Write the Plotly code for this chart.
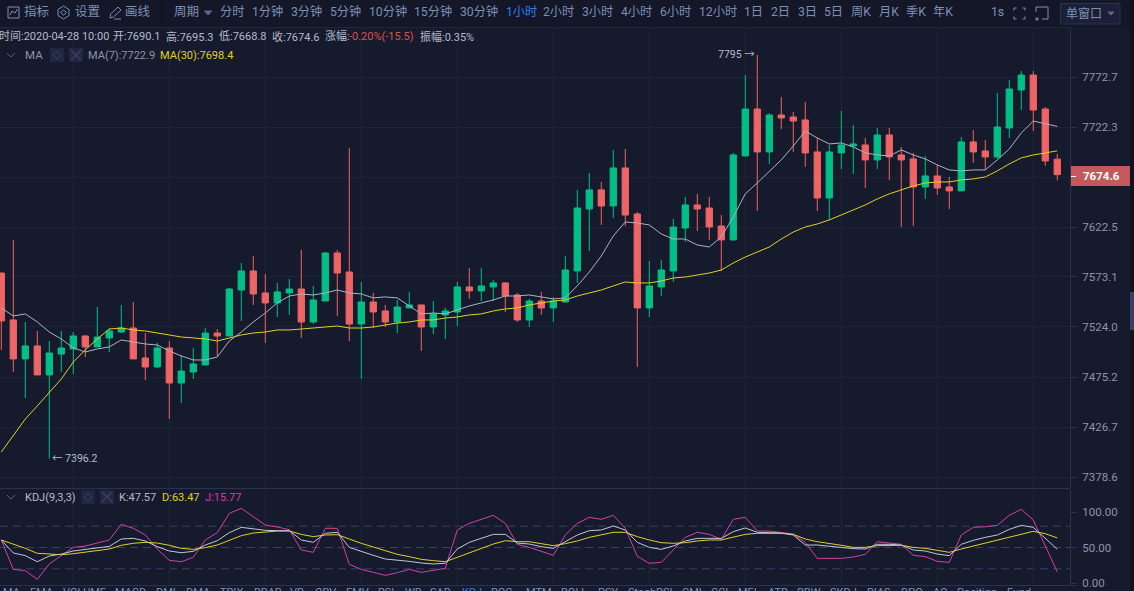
import math
import plotly.graph_objects as go
from plotly.subplots import make_subplots

# ---------- data ----------
opens = [7577.0,7530.9,7492.8,7505.5,7477.2,7497.6,7502.5,7515.2,7504.5,7513.3,7519.1,7523.0,7493.7,7485.0,7503.5,7469.4,7480.1,7486.9,7518.1,7515.2,7560.3,7579.0,7557.4,7547.6,7557.4,7561.3,7528.9,7549.5,7596.8,7578.0,7526.9,7548.5,7539.7,7528.9,7542.7,7545.6,7524.0,7535.8,7538.7,7563.3,7559.4,7563.3,7567.2,7555.4,7530.9,7549.5,7542.7,7548.5,7579.0,7640.4,7659.4,7643.4,7681.3,7635.4,7542.7,7563.3,7579.0,7621.5,7644.4,7641.4,7623.5,7609.7,7693.3,7740.4,7697.3,7734.4,7732.4,7729.4,7697.3,7651.4,7696.3,7703.3,7704.3,7689.3,7714.3,7694.3,7690.3,7662.3,7673.3,7662.3,7658.4,7707.3,7698.3,7692.3,7721.3,7759.6,7774.7,7740.4,7690.1]
highs = [7577.0,7609.7,7528.9,7520.1,7510.3,7520.1,7519.1,7516.2,7543.6,7523.0,7545.6,7548.5,7518.1,7508.4,7510.3,7496.7,7503.5,7523.0,7522.0,7562.3,7586.9,7593.8,7576.0,7567.2,7571.1,7599.8,7564.3,7597.8,7599.8,7701.3,7568.2,7557.4,7545.6,7550.5,7558.4,7545.6,7549.5,7542.7,7568.2,7582.0,7582.0,7570.2,7568.2,7557.4,7551.5,7558.4,7553.5,7593.8,7659.4,7676.3,7667.3,7699.3,7700.3,7637.4,7588.9,7589.9,7630.5,7652.4,7655.4,7652.4,7634.4,7696.3,7774.7,7795.0,7736.4,7752.5,7737.4,7747.5,7711.3,7704.3,7738.4,7724.3,7711.3,7721.3,7721.3,7702.3,7696.3,7693.3,7684.3,7672.3,7712.3,7719.3,7709.3,7756.6,7769.7,7778.7,7778.7,7742.4,7695.3]
lows = [7501.6,7480.1,7454.8,7477.2,7396.2,7480.1,7478.1,7494.7,7504.5,7499.6,7518.1,7492.8,7472.3,7484.0,7434.5,7450.0,7473.3,7486.9,7495.7,7515.2,7529.9,7545.6,7508.4,7533.8,7535.8,7513.3,7526.9,7549.5,7534.8,7510.3,7473.3,7523.0,7524.0,7518.1,7542.7,7500.6,7517.2,7512.3,7525.0,7551.5,7549.5,7549.5,7538.7,7528.9,7524.0,7535.8,7528.9,7548.5,7567.2,7598.8,7624.5,7631.5,7623.5,7484.9,7533.8,7554.4,7568.2,7607.7,7618.5,7609.7,7579.0,7608.7,7693.3,7638.4,7685.3,7720.3,7697.3,7682.3,7638.4,7629.5,7680.3,7675.3,7661.3,7680.3,7669.3,7622.5,7623.5,7650.4,7654.4,7640.4,7658.4,7686.3,7679.3,7690.3,7711.3,7739.4,7718.3,7683.3,7668.8]
closes = [7529.9,7492.8,7505.5,7477.2,7498.6,7503.5,7515.2,7504.5,7514.2,7520.1,7523.0,7492.8,7485.0,7503.5,7469.4,7481.0,7487.9,7518.1,7515.2,7561.3,7579.0,7556.4,7547.6,7558.4,7561.3,7528.9,7550.5,7596.8,7577.0,7526.9,7548.5,7538.7,7528.9,7543.6,7545.6,7524.0,7536.8,7539.7,7563.3,7559.4,7564.3,7567.2,7554.4,7530.9,7549.5,7542.7,7549.5,7580.0,7641.4,7659.4,7643.4,7681.3,7634.4,7542.7,7564.3,7580.0,7622.5,7644.4,7640.4,7622.5,7609.7,7694.3,7740.4,7697.3,7734.4,7731.4,7728.3,7696.3,7651.4,7697.3,7704.3,7705.3,7689.3,7714.3,7692.3,7689.3,7662.3,7673.3,7661.3,7658.4,7707.3,7697.3,7692.3,7722.3,7760.6,7774.7,7739.4,7688.3,7674.6]
ma7 = [7542.7,7534.8,7536.8,7528.9,7519.1,7512.3,7503.5,7499.6,7502.5,7504.5,7511.3,7509.4,7507.4,7506.4,7500.6,7495.7,7491.8,7491.8,7494.7,7510.3,7519.1,7528.9,7537.7,7547.6,7554.4,7556.4,7555.4,7557.4,7560.3,7557.4,7556.4,7552.5,7553.5,7552.5,7544.6,7536.8,7537.7,7536.8,7540.7,7544.6,7547.6,7550.5,7554.4,7554.4,7555.4,7553.5,7551.5,7552.5,7564.3,7578.0,7593.8,7613.6,7627.5,7626.5,7624.5,7615.6,7610.6,7610.6,7604.7,7602.7,7612.6,7632.5,7655.4,7666.3,7677.3,7689.3,7703.3,7718.3,7711.3,7705.3,7706.3,7702.3,7696.3,7694.3,7693.3,7699.3,7694.3,7690.3,7684.3,7679.3,7678.3,7679.3,7679.3,7689.3,7700.3,7716.3,7728.3,7725.3,7722.9]
ma30 = [7402.6,7419.0,7434.5,7447.1,7459.7,7473.3,7489.8,7501.6,7512.3,7522.0,7523.0,7521.1,7520.1,7518.1,7516.2,7514.2,7513.3,7512.3,7510.3,7513.3,7516.2,7518.1,7519.1,7521.1,7521.1,7522.0,7523.0,7524.0,7525.0,7523.0,7523.0,7524.0,7526.0,7527.9,7528.9,7530.9,7530.9,7532.8,7533.8,7535.8,7536.8,7539.7,7541.7,7542.7,7545.6,7547.6,7549.5,7550.5,7554.4,7557.4,7560.3,7564.3,7568.2,7567.2,7567.2,7569.2,7572.1,7573.1,7575.1,7577.0,7580.0,7586.9,7592.8,7597.8,7602.7,7610.6,7617.5,7622.5,7625.5,7629.5,7634.4,7639.4,7644.4,7650.4,7655.4,7659.4,7663.3,7666.3,7667.3,7667.3,7669.3,7670.3,7672.3,7678.3,7685.3,7691.3,7694.3,7696.3,7698.4]
k_vals = [60.6,42.3,38.5,30.0,38.0,40.8,45.1,47.4,49.8,51.6,62.0,62.9,59.2,51.2,45.1,42.7,44.6,53.5,59.6,70.9,78.4,76.5,74.2,73.7,73.7,60.6,57.3,70.0,71.4,50.2,44.1,39.0,33.8,32.4,30.5,28.2,26.8,27.7,47.9,57.3,62.9,68.5,68.5,56.3,54.9,51.2,48.8,58.2,67.6,73.7,74.7,80.3,74.7,57.3,50.2,47.4,52.1,59.2,62.9,62.9,62.9,72.3,77.5,71.4,70.9,70.4,67.6,53.5,53.5,51.6,49.3,48.4,47.9,54.5,54.5,53.5,46.5,45.1,40.8,38.5,54.5,60.1,64.3,67.6,75.6,81.2,78.4,62.9,47.57]
d_vals = [60.6,54.9,48.8,41.8,40.4,39.9,41.3,43.2,45.5,47.9,53.1,55.9,57.3,56.3,53.1,48.8,47.4,49.8,53.5,60.1,66.7,70.4,71.8,73.2,73.2,68.5,65.3,67.6,68.1,61.5,55.9,50.7,45.1,40.4,37.1,33.3,31.5,30.0,36.2,42.7,48.8,54.9,59.6,58.2,58.2,55.4,52.6,55.4,59.2,64.3,67.6,71.4,71.4,65.3,60.6,56.8,55.9,56.8,59.2,60.6,60.6,64.3,68.5,70.0,70.0,70.0,68.5,62.0,58.2,55.9,53.1,50.2,50.2,52.6,53.1,53.1,50.2,48.8,46.0,43.2,47.9,52.1,55.9,60.6,64.3,69.5,72.8,69.5,63.47]
j_vals = [60.6,19.2,17.4,5.2,26.8,38.5,50.2,52.1,55.9,60.6,82.6,77.0,67.6,47.9,31.9,30.0,36.2,60.6,70.9,98.1,105.2,93.4,81.7,78.9,75.1,46.5,43.2,77.0,77.0,26.3,19.2,15.0,10.8,14.6,19.2,15.0,17.8,20.7,74.7,84.0,89.7,95.3,84.0,54.5,50.2,44.1,39.0,67.6,84.0,92.5,89.7,95.3,77.0,37.6,27.7,29.1,46.5,64.3,71.4,68.5,61.5,89.7,92.5,73.2,73.2,71.4,69.0,57.3,34.7,34.7,34.7,36.6,40.4,58.2,55.9,54.5,39.0,37.1,30.5,29.1,67.6,78.4,79.3,81.2,95.3,103.8,88.7,51.2,15.77]
price_ticks = [7378.6,7426.7,7475.2,7524.0,7573.1,7622.5,7672.2,7722.3,7772.7]
price_tick_labels = ["7378.6","7426.7","7475.2","7524.0","7573.1","7622.5","","7722.3","7772.7"]
kdj_ticks = [0,50,100]
kdj_levels = [20,50,80]
toolbar_left = ["指标","设置","画线","周期"]
periods = ["分时","1分钟","3分钟","5分钟","10分钟","15分钟","30分钟","1小时","2小时","3小时","4小时","6小时","12小时","1日","2日","3日","5日","周K","月K","季K","年K","1s"]
indicators = ["MA","EMA","VOLUME","MACD","DMI","DMA","TRIX","BRAR","VR","OBV","EMV","RSI","WR","SAR","KDJ","ROC","MTM","BOLL","PSY","StochRSI","CMI","CCI","MFI","ATR","BBW","SKDJ","BIAS","DPO","AO","Position","Fund"]

# ---------- styling ----------
W, H = 1134, 591
BG = "#161a2d"; TOP = "#131728"; GRID = "#1e2336"; EDGE = "#2b3250"
RED = "#ef6464"; GREEN = "#00c087"
TXT = "#8e94ab"; TOOL = "#7e8fb5"; INFO = "#b4bacb"
YEL = "#e0d220"; MAG = "#d53fa6"; WHT = "#aeb2c6"; WK = "#c2c6d6"
FONT = "Roboto, 'Noto Sans CJK SC', sans-serif"
PX = lambda v: v / W
PY = lambda v: 1 - v / H
X0 = -0.108; X1 = 89.06

fig = make_subplots(rows=2, cols=1, shared_xaxes=True, vertical_spacing=0)
idx = list(range(len(opens)))
fig.add_trace(go.Candlestick(x=idx, open=opens, high=highs, low=lows, close=closes,
    increasing=dict(line=dict(color=GREEN, width=1), fillcolor=GREEN),
    decreasing=dict(line=dict(color=RED, width=1), fillcolor=RED),
    whiskerwidth=0, hoverinfo="skip", showlegend=False), row=1, col=1)
for vals, col in ((ma30, YEL), (ma7, WHT)):
    fig.add_trace(go.Scatter(x=idx, y=vals, mode="lines", line=dict(color=col, width=1),
                             hoverinfo="skip", showlegend=False), row=1, col=1)
for vals, col in ((j_vals, MAG), (d_vals, YEL), (k_vals, WK)):
    fig.add_trace(go.Scatter(x=idx, y=vals, mode="lines", line=dict(color=col, width=1),
                             hoverinfo="skip", showlegend=False), row=2, col=1)

grid_x = list(range(6, 89, 8))
axcommon = dict(range=[X0, X1], tickmode="array", tickvals=grid_x, showticklabels=False,
                showgrid=True, gridcolor=GRID, gridwidth=1, zeroline=False, ticks="",
                domain=[0, PX(1070)], rangeslider=dict(visible=False), showline=False)
fig.update_xaxes(**axcommon, row=1, col=1)
fig.update_xaxes(**axcommon, row=2, col=1)
yfont = dict(family=FONT, size=11.5, color=TXT)
fig.update_yaxes(type="log", range=[math.log10(7368.05), math.log10(7822.4)],
                 domain=[PY(488), PY(28)], side="right", tickmode="array",
                 tickvals=price_ticks, ticktext=price_tick_labels,
                 tickfont=yfont, showgrid=True, gridcolor=GRID, zeroline=False,
                 ticks="outside", ticklen=6, tickcolor=EDGE, ticklabelstandoff=3,
                 showline=True, linecolor=EDGE, linewidth=1, row=1, col=1)
fig.update_yaxes(range=[-2.8, 132.4], domain=[PY(585), PY(489)], side="right",
                 tickmode="array", tickvals=kdj_ticks, ticktext=[f"{v:.2f}" for v in kdj_ticks],
                 tickfont=yfont, showgrid=False, zeroline=False, ticks="outside", ticklen=6,
                 tickcolor=EDGE, ticklabelstandoff=3,
                 showline=True, linecolor=EDGE, linewidth=1, row=2, col=1)

shapes = []
def rect(x0, y0, x1, y1, fill, layer="above", line=None):
    shapes.append(dict(type="rect", xref="paper", yref="paper", x0=PX(x0), x1=PX(x1),
                       y0=PY(y0), y1=PY(y1), fillcolor=fill, layer=layer,
                       line=dict(color=line or fill, width=1 if line else 0)))
def path(pts, color, fill=None, close=False, width=1):
    d = "M " + " L ".join(f"{PX(a)} {PY(b)}" for a, b in pts) + (" Z" if close else "")
    shapes.append(dict(type="path", xref="paper", yref="paper", path=d, layer="above",
                       line=dict(color=color, width=width), fillcolor=fill or "rgba(0,0,0,0)"))

# KDJ reference levels
for lv in kdj_levels:
    shapes.append(dict(type="line", xref="x2", yref="y2", x0=X0, x1=X1, y0=lv, y1=lv, layer="below",
                       line=dict(color="#3a4066", width=1, dash="8px,5px")))

rect(0, 0, W, 27, TOP)
path([(0, 27.5), (1070, 27.5)], "#20253a")
path([(162, 0), (162, 27)], "#0f1220")
path([(0, 488.5), (1070, 488.5)], EDGE)
path([(0, 585.5), (1076, 585.5)], EDGE)
rect(1130, 0, W, H, "#10131f")
rect(1130, 292, W, 330, "#383e68")
rect(1071, 166, 1130, 186, "#c3595c")
path([(1071, 176.5), (1076, 176.5)], "#ffffff")
# small toolbar icons
path([(8, 7), (19, 7), (19, 18), (8, 18)], TOOL, close=True)
path([(10, 15), (12, 11), (15, 13), (17.5, 9)], TOOL)
path([(63.5, 6), (69, 9.5), (69, 15.5), (63.5, 19), (58, 15.5), (58, 9.5)], TOOL, close=True)
path([(63.5, 10), (66.5, 12.5), (63.5, 15), (60.5, 12.5)], TOOL, close=True)
path([(110, 18), (110.5, 14), (118, 7), (121, 10), (113.5, 17), (110, 18)], TOOL)
path([(114, 19), (121, 19)], TOOL)
path([(204.5, 11), (212, 11), (208.2, 15)], "#5d6885", fill="#5d6885", close=True)
for (a, b, c, d) in [(1014, 8, 1, 1), (1025, 8, -1, 1), (1014, 19, 1, -1), (1025, 19, -1, -1)]:
    path([(a, b + 2.5 * d), (a, b), (a + 2.5 * c, b)], TOOL)
path([(1036, 7), (1048, 7), (1048, 19), (1042, 19)], TOOL)
path([(1036, 7), (1036, 12)], TOOL)
path([(1037, 17), (1037, 21)], TOOL); path([(1035, 19), (1039, 19)], TOOL)
rect(1060.5, 3.5, 1120, 24, "#1b2036", line="#2b3354")
path([(1108, 12), (1114, 12), (1111, 15)], "#5d6885", fill="#5d6885", close=True)
# indicator-row chevrons and buttons
for yc in (55, 497):
    path([(7, yc - 2), (11, yc + 2), (15, yc - 2)], "#5b6178")
rect(50, 48, 64, 62, "#212742"); rect(69, 48, 83, 62, "#212742")
rect(81, 490, 95, 504, "#212742"); rect(100, 490, 114, 504, "#212742")
for (bx, yc) in [(57, 55), (88, 497)]:
    path([(bx-4, yc), (bx, yc-4), (bx+4, yc), (bx, yc+4)], "#3a415f", close=True)
for (bx, yc) in [(76, 55), (107, 497)]:
    path([(bx-5, yc-5), (bx+5, yc+5)], "#3a415f", width=1.5)
    path([(bx-5, yc+5), (bx+5, yc-5)], "#3a415f", width=1.5)

ann = []
def text(x, y, s, color=INFO, size=11, anchor="left", bold=False, family=FONT):
    ann.append(dict(xref="paper", yref="paper", x=PX(x), y=PY(y), text=f"<b>{s}</b>" if bold else s,
                    showarrow=False, xanchor=anchor, yanchor="middle",
                    font=dict(family=family, size=size, color=color), borderpad=0, borderwidth=0))

for s, x in zip(toolbar_left, (23.5, 75, 125, 174)):
    text(x, 12, s, TOOL, 12.5)
period_x = (220, 252, 291, 330, 369, 414, 460, 506, 543, 582, 621, 660, 699, 744, 770.6, 798, 824.5, 851, 879, 906, 933, 991)
for s, x in zip(periods, period_x):
    text(x, 12, s, "#2f7fee" if s == "1小时" else TOOL, 12.2)
text(1066, 13.5, "单窗口", TOOL, 12)

info = [(-1.5, "时间:2020-04-28 10:00"), (113, "开:7690.1"), (165.6, "高:7695.3"), (218.5, "低:7668.8"),
        (272, "收:7674.6"), (325, "涨幅:"), (419.5, "振幅:0.35%")]
for x, s in info:
    text(x, 36.5, s, INFO, 11)
text(349, 36.5, "-0.20%(-15.5)", "#d9534f", 11)

text(24.6, 55, "MA", TXT, 11.5)
text(88, 55, "MA(7):7722.9", TXT, 11)
text(160, 55, "MA(30):7698.4", YEL, 11)
text(24.6, 497, "KDJ(9,3,3)", INFO, 11)
text(119, 497, "K:47.57", INFO, 11)
text(162, 497, "D:63.47", YEL, 11)
text(205, 497, "J:15.77", MAG, 11)
text(1083, 176, "7674.6", "#ffffff", 11.5, bold=True)

ind_x = (3, 30, 63, 115, 156, 186, 220, 254, 290, 315, 346, 378, 405, 430, 462, 491, 526, 561, 597.5, 628, 682, 711, 738, 768, 797, 830, 866.5, 901, 933, 956.6, 1007)
for s, x in zip(indicators, ind_x):
    text(x, 592.5, s, "#2f7fee" if s == "KDJ" else TOOL, 11)

# extreme-price markers, tied to the data
hi_i = highs.index(max(highs)); lo_i = lows.index(min(lows))
ann.append(dict(xref="x", yref="y", x=hi_i, y=math.log10(max(highs)), xanchor="right", yanchor="middle",
                xshift=0, showarrow=False, text=f"{max(highs):.0f} →",
                font=dict(family=FONT, size=10.5, color=INFO)))
ann.append(dict(xref="x", yref="y", x=lo_i, y=math.log10(min(lows)), xanchor="left", yanchor="middle",
                xshift=1, showarrow=False, text=f"← {min(lows):.1f}",
                font=dict(family=FONT, size=10.5, color=INFO)))

fig.update_layout(width=W, height=H, margin=dict(l=0, r=0, t=0, b=0, autoexpand=False), autosize=False,
                  paper_bgcolor=BG, plot_bgcolor=BG, shapes=shapes, annotations=ann,
                  showlegend=False, boxgap=0.25, font=dict(family=FONT))
fig.write_html("out.html", config=dict(displayModeBar=False),
               post_script="document.body.style.margin='0';document.body.style.background='#161a2d';document.body.style.overflow='hidden';")
